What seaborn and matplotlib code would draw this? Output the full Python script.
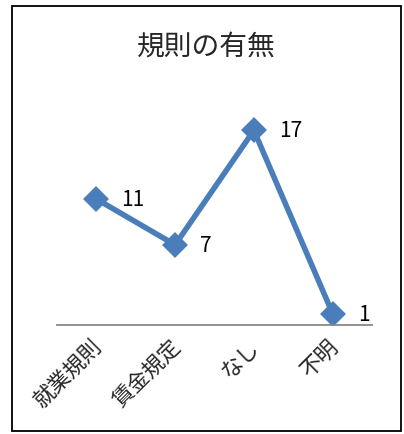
import matplotlib
matplotlib.use("Agg")
import matplotlib.pyplot as plt
import matplotlib.transforms as mtransforms
import seaborn as sns
from matplotlib.patches import Rectangle

# データ
categories = ["就業規則", "賃金規定", "なし", "不明"]
values = [11, 7, 17, 1]
title = "規則の有無"

sns.set_style("white")
plt.rcParams["font.family"] = ["Noto Sans CJK JP", "DejaVu Sans"]

W, H = 404, 435
fig = plt.figure(figsize=(W / 100, H / 100), dpi=100)
ax = fig.add_axes([57 / W, 109 / H, (372 - 57) / W, 229 / H])

sns.pointplot(x=categories, y=values, color="#4A7EBB", markers="D",
              errorbar=None, ax=ax, markersize=10, linewidth=4)

for i, v in enumerate(values):
    ax.annotate(str(v), (i, v), xytext=(18, 0), textcoords="offset points",
                fontsize=15, va="center", ha="left", color="black")

ax.set_ylim(0, 20)
ax.set_xlim(-0.5, 3.5)
ax.set_yticks([])
ax.set_xlabel("")
ax.set_ylabel("")
for s in ["top", "right", "left"]:
    ax.spines[s].set_visible(False)
ax.spines["bottom"].set_color("#888888")
ax.spines["bottom"].set_linewidth(1.3)
ax.tick_params(axis="x", length=0, pad=7)
shift = mtransforms.ScaledTranslation(-6 / 100, 0, fig.dpi_scale_trans)
for lbl in ax.get_xticklabels():
    lbl.set_rotation(45)
    lbl.set_ha("right")
    lbl.set_va("top")
    lbl.set_rotation_mode("anchor")
    lbl.set_fontsize(15.5)
    lbl.set_transform(lbl.get_transform() + shift)

fig.text(206 / W, 1 - 48 / H, title, fontsize=20, ha="center", va="center")

fig.patches.append(Rectangle((12 / W, 1 - 432 / H), (401 - 12) / W, (432 - 7) / H,
                             transform=fig.transFigure, fill=False,
                             edgecolor="black", linewidth=1.3))

fig.savefig("out.png", dpi=100)
